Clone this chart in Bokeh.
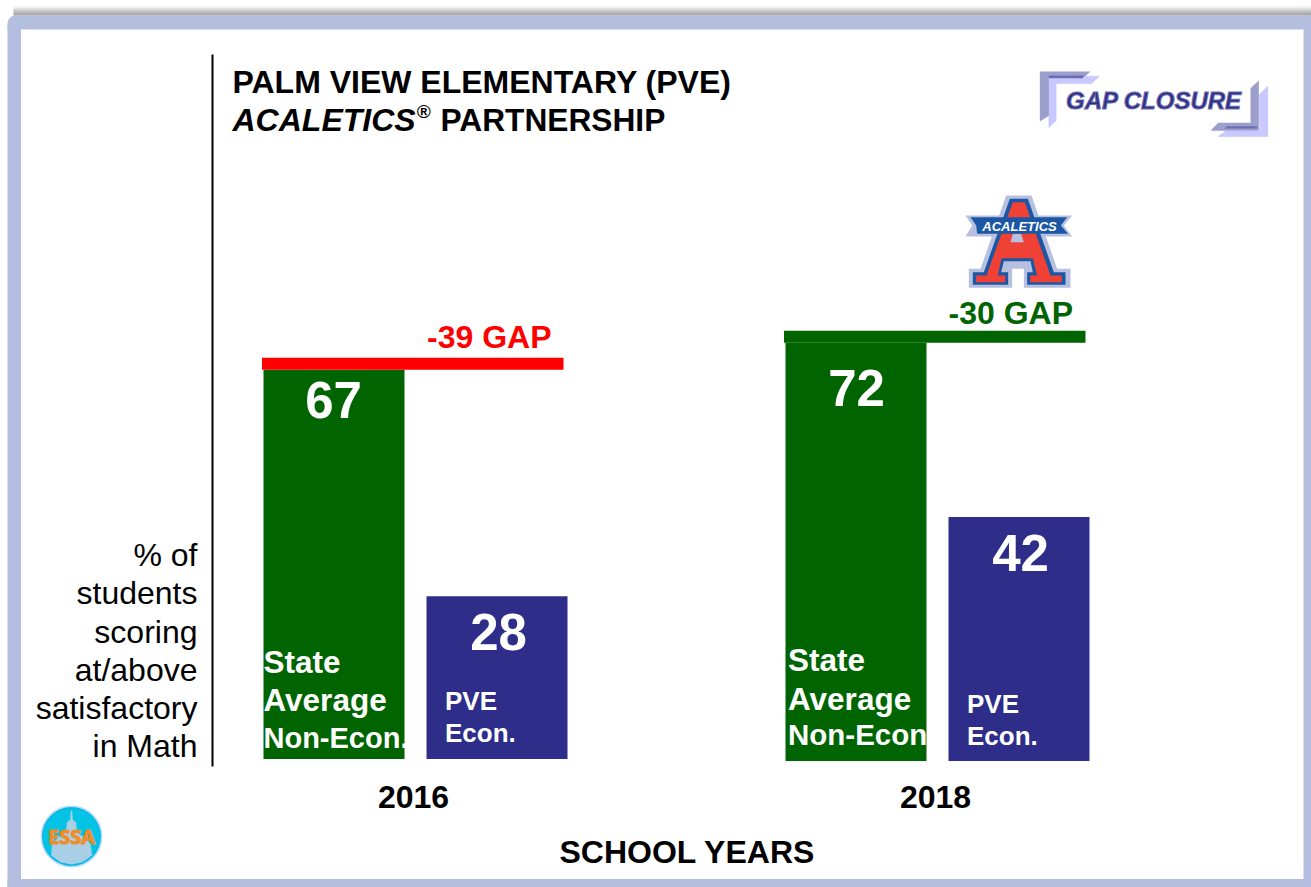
from bokeh.embed import file_html
from bokeh.resources import INLINE
from bokeh.plotting import figure
from bokeh.core.properties import value
from bokeh.models import (BoxAnnotation, ColumnDataSource, FixedTicker, Label,
                          PolyAnnotation, Range1d)

# ---- data ----
years = ["2016", "2018"]
state_avg = [67, 72]
pve_econ = [28, 42]
gaps = [-39, -30]
title_line1 = "PALM VIEW ELEMENTARY (PVE)"
ylabel_lines = ["% of", "students", "scoring", "at/above", "satisfactory", "in Math"]
xlabel = "SCHOOL YEARS"

# ---- colours ----
GREEN, NAVY, RED, BAND = "#006400", "#2e2e8a", "#ff0000", "#b4bfe0"
FONT = "Liberation Sans"

# ---- layout (picture pixels) ----
W, H = 1311, 887
FRAME_L, FRAME_T, FRAME_B = 212, 54, 766
ZERO_Y, PX = 759.5, 5.81
year_x = [413, 935]
green_x = [(263, 404), (785, 926)]
navy_x = [(426, 567), (948, 1089)]
base_shift = [1, -1]      # px the baseline sits above the common zero
gap_x = [(261.5, 563), (783.5, 1085)]
gap_bar_px = 12

def dy(px):
    return px / PX

p = figure(width=W, height=H, output_backend="svg", toolbar_location=None,
           x_range=Range1d(0, W),
           y_range=Range1d((ZERO_Y - H) / PX, ZERO_Y / PX),
           min_border_left=0, min_border_right=0, min_border_top=0, min_border_bottom=0,
           background_fill_color="white", border_fill_color="white")
p.grid.visible = False
p.outline_line_color = None

# axes: the black vertical rule and the year labels
p.yaxis.fixed_location = FRAME_L - 0.5
p.yaxis.bounds = ((ZERO_Y - FRAME_B) / PX, (ZERO_Y - FRAME_T) / PX)
p.yaxis.ticker = FixedTicker(ticks=[])
p.yaxis.axis_line_color = "black"
p.yaxis.axis_line_width = 2
p.yaxis.major_tick_line_color = None
p.yaxis.minor_tick_line_color = None
p.xaxis.fixed_location = (ZERO_Y - FRAME_B) / PX
p.xaxis.ticker = FixedTicker(ticks=year_x)
p.xaxis.major_label_overrides = {x: y for x, y in zip(year_x, years)}
p.xaxis.axis_line_color = None
p.xaxis.major_tick_line_color = None
p.xaxis.minor_tick_line_color = None
p.xaxis.major_label_text_font = FONT
p.xaxis.major_label_text_font_style = "bold"
p.xaxis.major_label_text_font_size = "32px"
p.xaxis.major_label_text_color = "black"
p.xaxis.major_label_standoff = 13

# bars
shift = [dy(s) for s in base_shift]
p.quad(left=[a for a, _ in green_x], right=[b for _, b in green_x],
       bottom=shift, top=[v + s for v, s in zip(state_avg, shift)],
       fill_color=GREEN, line_color=None)
p.quad(left=[a for a, _ in navy_x], right=[b for _, b in navy_x],
       bottom=shift, top=[v + s for v, s in zip(pve_econ, shift)],
       fill_color=NAVY, line_color=None)

# gap bars on top of the state bars
tops = [v + s for v, s in zip(state_avg, shift)]
p.quad(left=[a for a, _ in gap_x], right=[b for _, b in gap_x],
       bottom=tops, top=[t + dy(gap_bar_px) for t in tops],
       fill_color=[RED, GREEN], line_color=None)

# value labels
val_src = ColumnDataSource(dict(
    x=[333, 498, 856, 1020],
    y=[tops[0], pve_econ[0] + shift[0], tops[1], pve_econ[1] + shift[1]],
    t=[str(state_avg[0]), str(pve_econ[0]), str(state_avg[1]), str(pve_econ[1])],
    off=[30, 36, 45, 36]))
p.text(x="x", y="y", text="t", y_offset="off", source=val_src, text_color="white",
       text_font=value(FONT), text_font_style="bold", text_font_size="51px",
       text_align="center", text_baseline="middle")

gap_src = ColumnDataSource(dict(x=[551, 1072.5], y=[t + dy(gap_bar_px) for t in tops],
                                t=[f"{g} GAP" for g in gaps], c=[RED, GREEN], off=[-21, -18]))
p.text(x="x", y="y", text="t", text_color="c", y_offset="off", source=gap_src,
       text_font=value(FONT), text_font_style="bold", text_font_size="32px",
       text_align="right", text_baseline="middle")

# ---- helpers in picture pixels ----
def box(l, t, r, b, **kw):
    kw.setdefault("line_color", None)
    kw.setdefault("level", "underlay")
    p.add_layout(BoxAnnotation(left=l, right=r, top=t, bottom=b,
                               left_units="canvas", right_units="canvas",
                               top_units="canvas", bottom_units="canvas", **kw))

def poly(pts, origin=(0, 0), scale=1.0, color="black", alpha=1.0, line=None):
    xs = [origin[0] + x * scale for x, _ in pts]
    ys = [origin[1] + y * scale for _, y in pts]
    p.add_layout(PolyAnnotation(xs=xs, ys=ys, xs_units="canvas", ys_units="canvas",
                                fill_color=color, fill_alpha=alpha,
                                line_color=line, editable=False))

def label(txt, x, y, size, color="black", style="normal", align="left", font=FONT, **kw):
    p.add_layout(Label(x=x, y=y, x_units="canvas", y_units="canvas", text=txt,
                       text_font=font, text_font_size=f"{size}px", text_font_style=style,
                       text_color=color, text_align=align, text_baseline="middle", **kw))

# ---- frame ----
shades = ["#fafafa", "#f0f0f0", "#e4e4e4", "#d6d6d6", "#c6c6c6", "#b6b6b6",
          "#a8a8a8", "#9c9c9c", "#929292", "#8c8c8c"]
for i, c in enumerate(shades):
    box(13, 5 + i, W, 6 + i, fill_color=c, fill_alpha=1)
box(7, 15, W, 29, fill_color=BAND, fill_alpha=1, border_radius=(8, 0, 0, 0))
box(7, 878.5, W, H, fill_color=BAND, fill_alpha=1)
box(7, 24, 20.5, H, fill_color=BAND, fill_alpha=1)
box(1303, 15, W, H, fill_color=BAND, fill_alpha=1)

# ---- title ----
label(title_line1, 232, 81, 32, style="bold")
label("ACALETICS", 232, 119, 32, style="bold italic")
label("®", 416, 111, 19, style="bold italic")
label("PARTNERSHIP", 440, 119, 31.7, style="bold")

# ---- y description ----
for txt, y in zip(ylabel_lines, [554, 592, 631, 669, 707, 745]):
    label(txt, 197, y, 32, align="right")
label(xlabel, 687, 851, 32, style="bold", align="center")

# ---- text in the bars ----
for txt, y, s in zip(["State", "Average", "Non-Econ."], [661, 699, 737], [31.5, 31.5, 29]):
    label(txt, 263, y, s, color="white", style="bold")
for txt, y, s in zip(["State", "Average", "Non-Econ"], [659, 698, 734], [31.5, 31.5, 29.5]):
    label(txt, 787.5, y, s, color="white", style="bold")
for txt, y in zip(["PVE", "Econ."], [700, 732]):
    label(txt, 444.5, y, 26, color="white", style="bold")
for txt, y in zip(["PVE", "Econ."], [703, 735]):
    label(txt, 966.5, y, 26, color="white", style="bold")

# ---- GAP CLOSURE badge ----
G = (1035, 65)
s = 1 / 3
poly([(13, 18), (165, 18), (143, 38), (45, 38), (45, 148), (13, 168)], G, s, "#9c9ecb")
poly([(40, 32), (192, 32), (168, 54), (62, 54), (62, 165), (40, 186)], G, s, "#c9c9ff", line="#a6a6ff")
poly([(40, 30), (146, 30), (142, 38), (40, 38)], G, s, "#6d6db3")
poly([(645, 68), (670, 45), (670, 196), (525, 196), (548, 172), (645, 172)], G, s, "#9c9ecb")
poly([(672, 86), (697, 62), (697, 213), (548, 213), (572, 196), (672, 196)], G, s, "#c9c9ff", line="#a6a6ff")
poly([(575, 182), (665, 182), (665, 189), (567, 189)], G, s, "#6d6db3")
label("GAP CLOSURE", 1153.5, 100, 24, color=NAVY, style="bold italic", align="center",
      text_outline_color="#6f6fa8")

# ---- ACALETICS badge ----
A = (955, 190)
poly([(152, 15), (228, 15), (305, 235), (345, 235), (345, 292), (205, 292), (205, 235),
      (170, 235), (170, 292), (40, 292), (40, 235), (75, 235)], A, s, "#b8c0e0")
poly([(30, 75), (350, 75), (325, 105), (350, 138), (30, 138), (50, 105)], A, s, "#b8c0e0")
poly([(163, 25), (217, 25), (295, 245), (330, 245), (330, 283), (215, 283), (215, 245),
      (232, 245), (225, 212), (145, 212), (137, 245), (158, 245), (158, 283), (52, 283),
      (52, 245), (85, 245)], A, s, "#1c57a5")
poly([(172, 35), (208, 35), (285, 255), (319, 255), (319, 275), (224, 275), (224, 255),
      (245, 255), (232, 203), (138, 203), (127, 255), (149, 255), (149, 275), (62, 275),
      (62, 255), (93, 255)], A, s, "#ef4136")
poly([(165, 155), (205, 155), (197, 130), (172, 130)], A, s, "#b8c0e0")
poly([(45, 80), (335, 80), (316, 105), (338, 130), (65, 130), (62, 105)], A, s, "#1c57a5")
label("ACALETICS", 1019, 226, 13, color="white", style="bold italic", align="center")

# ---- ESSA badge ----
box(41.5, 806.5, 100.5, 865.5, fill_color="#04c4e6", fill_alpha=1, line_color="#1e96f0",
    line_width=3, border_radius=30, level="annotation")
E = (35, 800)
poly([(106, 30), (110, 30), (112, 58), (122, 65), (124, 95), (148, 112), (165, 130), (170, 165),
      (140, 185), (108, 192), (75, 185), (47, 165), (50, 130), (68, 112), (92, 95), (94, 65), (104, 58)],
     E, s, "#a9cfe6")
label("ESSA", 71, 836, 20, color="#f28c28", style="bold", align="center", font="Open Sans",
      text_outline_color="#f28c28")

open("out.html", "w").write(file_html(p, INLINE))
